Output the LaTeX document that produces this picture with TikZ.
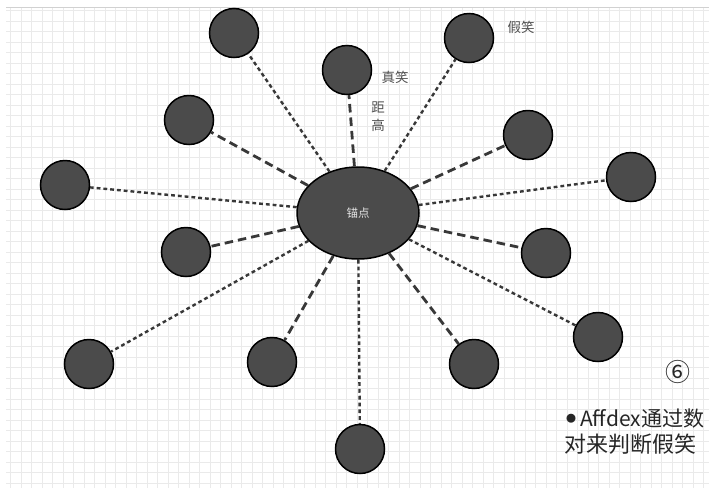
\documentclass[tikz,border=0pt]{standalone}
\usepackage{fontspec}
\newfontfamily\cjk{Noto Sans CJK SC}
\usetikzlibrary{shapes.geometric}
\definecolor{ballfill}{HTML}{4B4B4B}
\definecolor{labelgray}{HTML}{505050}
\definecolor{gridgray}{HTML}{EAEAEA}
\tikzset{
  ball/.style={circle, draw=black, line width=1.5pt, fill=ballfill, minimum size=49pt, inner sep=0pt},
  hub/.style={ellipse, draw=black, line width=1.5pt, fill=ballfill, minimum width=122pt, minimum height=92pt, inner sep=0pt},
  thickdash/.style={draw=black!78, line width=2.8pt, dash pattern=on 8.5pt off 5pt},
  finedot/.style={draw=black!78, line width=2.4pt, dash pattern=on 3.8pt off 3pt},
  lbl/.style={font=\cjk\fontsize{13.5}{15}\selectfont, text=labelgray, inner sep=0pt},
  gridline/.style={draw=gridgray, line width=0.5pt}
}
\begin{document}
\begin{tikzpicture}[x=1pt,y=-1pt]
\useasboundingbox (0,0) rectangle (709,488);
\fill[white] (0,0) rectangle (709,488);
\draw[gridline, step=10.5pt] (6,7) grid (709,488);
\draw[draw=black!18, line width=0.8pt] (6,7.5) -- (709,7.5);

\node[hub] (c) at (358,213) {};
\node[font=\cjk\fontsize{11.5}{13}\selectfont, text=black!10] (ct) at (358,213) {锚点};

\node[ball] (n1) at (234,33) {};
\node[ball] (n2) at (347,70) {};
\node[ball] (n3) at (469,38) {};
\node[ball] (n4) at (189,120) {};
\node[ball] (n5) at (528,135) {};
\node[ball] (n6) at (65,185) {};
\node[ball] (n7) at (631,177) {};
\node[ball] (n8) at (186,252) {};
\node[ball] (n9) at (546,253) {};
\node[ball] (n10) at (598,337) {};
\node[ball] (n11) at (89,364) {};
\node[ball] (n12) at (272,362) {};
\node[ball] (n13) at (474,364) {};
\node[ball] (n14) at (360,449) {};

\draw[finedot] (c) -- (n1);
\draw[thickdash] (c) -- (n2);
\draw[finedot] (c) -- (n3);
\draw[thickdash] (c) -- (n4);
\draw[thickdash] (c) -- (n5);
\draw[finedot] (c) -- (n6);
\draw[finedot] (c) -- (n7);
\draw[thickdash] (c) -- (n8);
\draw[thickdash] (c) -- (n9);
\draw[finedot] (c) -- (n10);
\draw[finedot] (c) -- (n11);
\draw[thickdash] (c) -- (n12);
\draw[thickdash] (c) -- (n13);
\draw[finedot] (c) -- (n14);

\node[lbl] (l1) at (395,77) {真笑};
\node[lbl] (l2) at (378,107) {距};
\node[lbl] (l3) at (378,125) {高};
\node[lbl] (l4) at (521,27) {假笑};

\node[font=\cjk\fontsize{25}{27}\selectfont, text=black!85, inner sep=0pt] (num) at (678,372) {⑥};
\node[font=\cjk\fontsize{21}{24}\selectfont, text=black!85, anchor=base west, inner sep=0pt] (t1) at (566,426) {\raisebox{4pt}{\fontsize{10}{11}\selectfont●}\hspace{4pt}Affdex\hspace{1pt}通过数};
\node[font=\cjk\fontsize{22}{24}\selectfont, text=black!85, anchor=base west, inner sep=0pt] (t2) at (564,452) {对来判断假笑};
\end{tikzpicture}
\end{document}
